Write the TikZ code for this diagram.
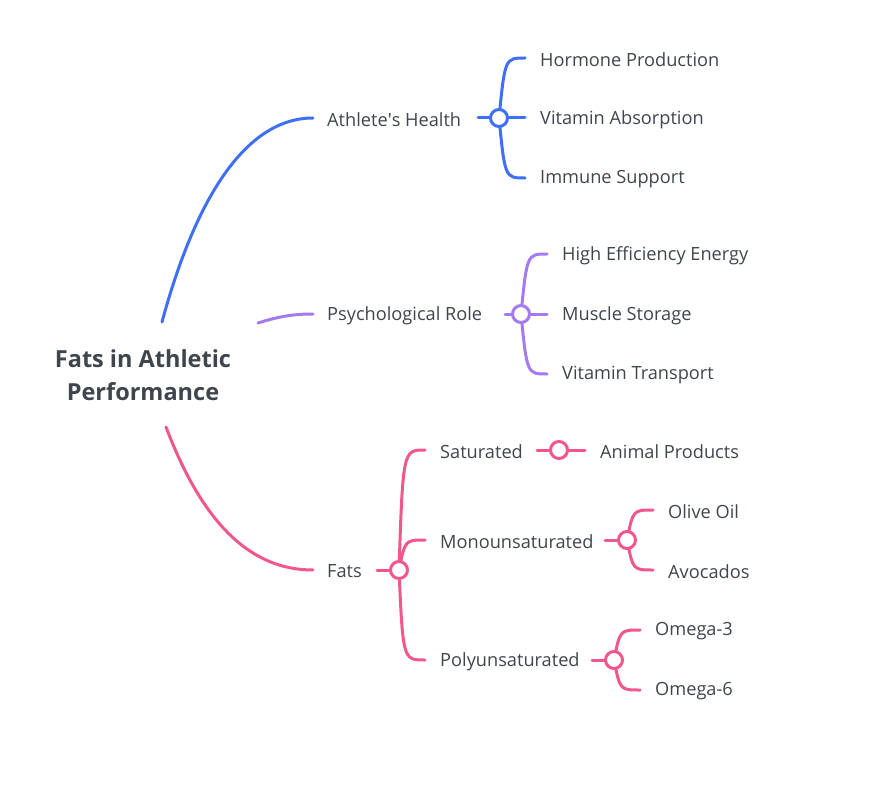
\documentclass[tikz,border=0pt]{standalone}
\usepackage{fontspec}
\setmainfont{Open Sans}
\begin{document}
\begin{tikzpicture}[x=1pt,y=-1pt,
  txt/.style={anchor=west,inner sep=0pt,yshift=-1.5pt,text=textgray,font=\fontsize{18.2}{21}\selectfont},
  edge/.style={line width=3pt,line cap=round},
  hub/.style={circle,line width=3pt,fill=white,minimum size=17pt,inner sep=0pt}]
\definecolor{textgray}{HTML}{3F454D}
\definecolor{cblue}{HTML}{3F6FF6}
\definecolor{cpurple}{HTML}{A37BEF}
\definecolor{cpink}{HTML}{F2578A}
\useasboundingbox (0,0) rectangle (873,789);

% root
\node[align=center,inner sep=0pt,text=textgray,font=\fontsize{23.5}{33}\selectfont\bfseries] (root) at (143,375) {Fats in Athletic\\Performance};

% level 1 labels
\node[txt] (ah) at (327,118) {Athlete\textquotesingle s Health};
\node[txt] (pr) at (327,314) {Psychological Role};
\node[txt] (fa) at (327,570) {Fats};

% free ends
\coordinate (rb) at (162,322);
\coordinate (rp) at (258,323);
\coordinate (rf) at (166,427);

\draw[edge,cblue] (rb) .. controls (195,200) and (245,118) .. (313,118);
\draw[edge,cpurple] (rp) .. controls (280,316) and (295,314) .. (313,314);
\draw[edge,cpink] (rf) .. controls (205,530) and (255,570) .. (313,570);

% blue group
\coordinate (hb) at (499,118);
\coordinate (hbin) at (478,118);
\coordinate (b1) at (525,58);
\coordinate (b2) at (525,118);
\coordinate (b3) at (525,178);
\draw[edge,cblue] (hbin) -- (hb);
\draw[edge,cblue] (hb) .. controls (505,58) and (505,58) .. (b1);
\draw[edge,cblue] (hb) -- (b2);
\draw[edge,cblue] (hb) .. controls (505,178) and (505,178) .. (b3);
\node[hub,draw=cblue] (hubb) at (hb) {};
\node[txt] (hp) at (540,58) {Hormone Production};
\node[txt] (va) at (540,118) {Vitamin Absorption};
\node[txt] (is) at (540,178) {Immune Support};

% purple group
\coordinate (hp2) at (521,314);
\coordinate (hpin) at (505,314);
\coordinate (p1) at (547,254);
\coordinate (p2) at (547,314);
\coordinate (p3) at (547,374);
\draw[edge,cpurple] (hpin) -- (hp2);
\draw[edge,cpurple] (hp2) .. controls (527,254) and (527,254) .. (p1);
\draw[edge,cpurple] (hp2) -- (p2);
\draw[edge,cpurple] (hp2) .. controls (527,374) and (527,374) .. (p3);
\node[hub,draw=cpurple] (hubp) at (hp2) {};
\node[txt] (he) at (562,254) {High Efficiency Energy};
\node[txt] (ms) at (562,314) {Muscle Storage};
\node[txt] (vt) at (562,374) {Vitamin Transport};

% pink group
\coordinate (hf) at (399,570);
\coordinate (hfin) at (377,570);
\coordinate (f1) at (425,450);
\coordinate (f2) at (425,540);
\coordinate (f3) at (425,660);
\draw[edge,cpink] (hfin) -- (hf);
\draw[edge,cpink] (hf) .. controls (403,450) and (403,450) .. (f1);
\draw[edge,cpink] (hf) .. controls (405,540) and (405,540) .. (f2);
\draw[edge,cpink] (hf) .. controls (403,660) and (403,660) .. (f3);
\node[hub,draw=cpink] (hubf) at (hf) {};
\node[txt] (sat) at (440,450) {Saturated};
\node[txt] (mono) at (440,540) {Monounsaturated};
\node[txt] (poly) at (440,660) {Polyunsaturated};

% saturated
\coordinate (hs) at (559,450);
\coordinate (hsin) at (537,450);
\coordinate (s1) at (585,450);
\draw[edge,cpink] (hsin) -- (s1);
\node[hub,draw=cpink] (hubs) at (hs) {};
\node[txt] (ap) at (600,450) {Animal Products};

% mono
\coordinate (hm) at (627,540);
\coordinate (hmin) at (605,540);
\coordinate (m1) at (653,510);
\coordinate (m2) at (653,570);
\draw[edge,cpink] (hmin) -- (hm);
\draw[edge,cpink] (hm) .. controls (633,510) and (633,510) .. (m1);
\draw[edge,cpink] (hm) .. controls (633,570) and (633,570) .. (m2);
\node[hub,draw=cpink] (hubm) at (hm) {};
\node[txt] (oo) at (668,510) {Olive Oil};
\node[txt] (av) at (668,570) {Avocados};

% poly
\coordinate (hpo) at (614,660);
\coordinate (hpoin) at (592,660);
\coordinate (o1) at (640,630);
\coordinate (o2) at (640,690);
\draw[edge,cpink] (hpoin) -- (hpo);
\draw[edge,cpink] (hpo) .. controls (620,630) and (620,630) .. (o1);
\draw[edge,cpink] (hpo) .. controls (620,690) and (620,690) .. (o2);
\node[hub,draw=cpink] (hubpo) at (hpo) {};
\node[txt] (o3) at (655,630) {Omega-3};
\node[txt] (o6) at (655,690) {Omega-6};
\end{tikzpicture}
\end{document}
